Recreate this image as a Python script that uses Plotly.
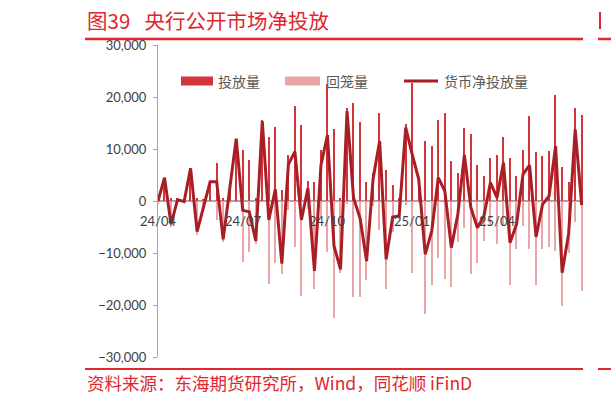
import plotly.graph_objects as go

# ---- data (weekly, 10^8 CNY) ----
tick_idx = [0, 13, 26, 39, 52]
tick_labels = ["24/04", "24/07", "24/10", "25/01", "25/04"]

injection = [500, 4500, 500, 600, 200, 6300, 600, 200, 3800, 7300,
             500, 2500, 12000, 9900, 7900, 500, 15500, 12300, 14200, 2200,
             8800, 18300, 14600, 3900, 3600, 9900, 22500, 13900, 600, 17900,
             18900, 15200, 3700, 5300, 16900, 5900, 3000, 500, 14900, 22700,
             4500, 11600, 10500, 15500, 16900, 7700, 5300, 14100, 12800, 6900,
             4800, 8200, 8900, 12300, 8200, 4800, 9900, 16300, 9400, 8600,
             9700, 20300, 6500, 3700, 17800, 16600]
withdrawal = [500, 0, 5000, 340, 330, 0, 6500, 1300, 100, 3600,
              7900, 200, 0, 11700, 9900, 8200, 100, 15900, 11900, 14000,
              1800, 8800, 18200, 1500, 17000, 3000, 9800, 22500, 13800, 600,
              18400, 18500, 15200, 1000, 5500, 17000, 6000, 3400, 800, 13800,
              300, 21800, 16200, 11000, 15000, 16600, 7800, 5200, 14000, 12000,
              7600, 4700, 8200, 4900, 16200, 9300, 4800, 9300, 16200, 9300,
              8800, 9700, 20200, 10000, 4000, 17300]
net = [0, 4490, -4490, 260, -130, 6280, -5900, -1090, 3720, 3720,
       -7370, 2300, 11990, -1800, -2050, -7700, 15380, -3650, 2240, -12050,
       7050, 9490, -3650, 2440, -13460, 6920, 12690, -8650, -13140, 17310,
       600, -3300, -11540, 4300, 11540, -11220, -3080, -2880, 14100, 8970,
       4170, -10260, -5770, 4490, 1920, -8970, -2560, 8850, -1280, -5130,
       -2880, 3530, 640, 7370, -8010, -4490, 5130, 6920, -6920, -640,
       960, 10580, -13780, -6280, 13780, -770]

weeks = list(range(len(net)))
withdrawal_neg = [-v for v in withdrawal]

# ---- layout geometry (pixels) ----
W, H = 611, 402
L, R, T, B = 158, 583, 45, 357
def px(x):
    return (x - L) / (R - L)
def py(y):
    return (B - y) / (B - T)

RED = "#E0262F"
BAR_RED = "#D3353B"
BAR_PINK = "#E9A5A7"
LINE_RED = "#A91E25"
GREY = "#A6A6A6"
TXT = "#404040"

fig = go.Figure()
fig.add_trace(go.Bar(x=weeks, y=injection, width=0.2, marker_color=BAR_RED,
                     marker_line_width=0, name="投放量", showlegend=False))
fig.add_trace(go.Bar(x=weeks, y=withdrawal_neg, width=0.2, marker_color=BAR_PINK,
                     marker_line_width=0, name="回笼量", showlegend=False))
fig.add_trace(go.Scatter(x=weeks, y=net, mode="lines",
                         line=dict(color=LINE_RED, width=3),
                         name="货币净投放量", showlegend=False))

shapes = []
# red rules
for (x0, x1, y, w) in [(85, 583, 39, 2.5), (85, 583, 369, 2), (598, 611, 39, 2.5), (598, 611, 369, 2)]:
    shapes.append(dict(type="line", xref="paper", yref="paper",
                       x0=px(x0), x1=px(x1), y0=py(y), y1=py(y),
                       line=dict(color=RED, width=w)))
# fragment of next figure's title
shapes.append(dict(type="rect", xref="paper", yref="paper",
                   x0=px(599), x1=px(601), y0=py(29), y1=py(12),
                   fillcolor=RED, line=dict(width=0)))
# legend symbols
shapes.append(dict(type="rect", xref="paper", yref="paper",
                   x0=px(181), x1=px(213), y0=py(85.5), y1=py(76.5),
                   fillcolor=BAR_RED, line=dict(width=0)))
shapes.append(dict(type="rect", xref="paper", yref="paper",
                   x0=px(285), x1=px(320), y0=py(85.5), y1=py(76.5),
                   fillcolor=BAR_PINK, line=dict(width=0)))
shapes.append(dict(type="line", xref="paper", yref="paper",
                   x0=px(404), x1=px(438), y0=py(81), y1=py(81),
                   line=dict(color=LINE_RED, width=3)))

annotations = []
annotations.append(dict(text="图39\u2002\u2009央行公开市场净投放", xref="paper", yref="paper",
                        x=px(85), y=py(20), xanchor="left", yanchor="middle",
                        showarrow=False,
                        font=dict(family="Noto Sans CJK SC", size=20.5, color=RED)))
annotations.append(dict(text="资料来源：东海期货研究所，Wind，同花顺 iFinD", xref="paper", yref="paper",
                        x=px(85), y=py(382), xanchor="left", yanchor="middle",
                        showarrow=False,
                        font=dict(family="Noto Sans CJK SC", size=17.5, color=RED)))
for xpix, label in [(216, "投放量"), (324, "回笼量"), (442, "货币净投放量")]:
    annotations.append(dict(text=label, xref="paper", yref="paper",
                            x=px(xpix), y=py(81), xanchor="left", yanchor="middle",
                            showarrow=False,
                            font=dict(family="Noto Sans CJK SC", size=14, color="#595959")))
for i, lab in zip(tick_idx, tick_labels):
    annotations.append(dict(text=lab, xref="x", yref="y", x=i, y=0,
                            xanchor="center", yanchor="top", yshift=-10,
                            showarrow=False,
                            font=dict(family="Lato", size=13, color=TXT)))

fig.update_layout(
    width=W, height=H,
    margin=dict(l=L, r=W - R, t=T, b=H - B, pad=0),
    paper_bgcolor="white", plot_bgcolor="white",
    barmode="overlay", bargap=0,
    shapes=shapes, annotations=annotations,
    xaxis=dict(range=[0, 65.2], showgrid=False, zeroline=False, showline=False,
               showticklabels=False, ticks=""),
    yaxis=dict(range=[-30000, 30000], dtick=10000, tickformat=",",
               showgrid=False, showline=True, linecolor=GREY, linewidth=1,
               ticks="outside", ticklen=4, tickcolor=GREY, ticklabelstandoff=4,
               zeroline=True, zerolinecolor=GREY, zerolinewidth=1.5,
               tickfont=dict(family="Lato", size=13, color=TXT)),
)

fig.write_html("out.html", config={"displayModeBar": False},
               post_script="document.body.style.margin='0';document.body.style.overflow='hidden';")
